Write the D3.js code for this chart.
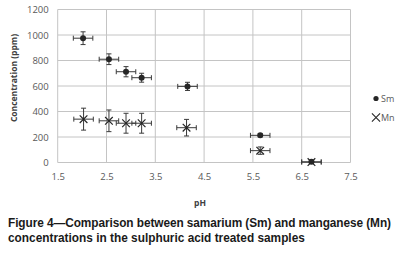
<!DOCTYPE html>
<html>
<head>
<meta charset="utf-8">
<script src="https://cdn.jsdelivr.net/npm/d3@7"></script>
<style>
  body { margin: 0; background: #fff; }
  svg { display: block; }
</style>
</head>
<body>
<div id="chart"></div>
<script>
// data
var smPH   = [2.02, 2.55, 2.9, 3.22, 4.16, 5.65, 6.7];
var smConc = [975, 810, 712, 665, 597, 213, 5];
var smErr  = [50, 42, 40, 35, 32, 12, 8];
var mnPH   = [2.03, 2.55, 2.9, 3.22, 4.14, 5.65, 6.7];
var mnConc = [340, 327, 308, 308, 273, 93, 3];
var mnErr  = [86, 85, 78, 78, 65, 29, 10];
var phErr  = 0.2;
var xTicks = [1.5, 2.5, 3.5, 4.5, 5.5, 6.5, 7.5];
var yTicks = [0, 200, 400, 600, 800, 1000, 1200];

var W = 399, H = 267;
var margin = {top: 9.5, left: 57.7, right: 48.5, bottom: 104.5};

var svg = d3.select("#chart").append("svg")
    .attr("width", W).attr("height", H);

var x = d3.scaleLinear().domain([1.5, 7.5]).range([margin.left, W - margin.right]);
var y = d3.scaleLinear().domain([0, 1200]).range([H - margin.bottom, margin.top]);

var grid = "#c4c4c4", tickCol = "#595959", ink = "#262626";

// gridlines
svg.append("g").selectAll("line.h").data(yTicks).enter().append("line")
    .attr("x1", x(1.5)).attr("x2", x(7.5))
    .attr("y1", function(d){ return y(d); }).attr("y2", function(d){ return y(d); })
    .attr("stroke", grid).attr("stroke-width", 1);
svg.append("g").selectAll("line.v").data(xTicks).enter().append("line")
    .attr("x1", function(d){ return x(d); }).attr("x2", function(d){ return x(d); })
    .attr("y1", y(0)).attr("y2", y(1200))
    .attr("stroke", grid).attr("stroke-width", 1);

// axes (labels only)
var xAxis = svg.append("g")
    .attr("transform", "translate(0," + (y(0) + 4) + ")")
    .call(d3.axisBottom(x).tickValues(xTicks).tickSize(0).tickFormat(d3.format(".1f")));
var yAxis = svg.append("g")
    .attr("transform", "translate(" + (x(1.5) - 6) + ",0)")
    .call(d3.axisLeft(y).tickValues(yTicks).tickSize(0).tickFormat(d3.format("d")));
[xAxis, yAxis].forEach(function(a){
  a.select(".domain").remove();
  a.selectAll("text").attr("fill", tickCol)
    .style("font-family", "'Open Sans', sans-serif").style("font-size", "9.5px");
});
xAxis.selectAll("text").attr("dy", "1.1em");

// axis titles
svg.append("text")
    .attr("transform", "translate(17," + 78 + ") rotate(-90)")
    .attr("text-anchor", "middle")
    .attr("fill", "#404040")
    .style("font-family", "'Open Sans', sans-serif").style("font-size", "8.5px").style("font-weight", "bold")
    .text("Concentration (ppm)");
svg.append("text")
    .attr("x", 200).attr("y", 206)
    .attr("text-anchor", "middle")
    .attr("fill", "#404040")
    .style("font-family", "'Open Sans', sans-serif").style("font-size", "8.5px").style("font-weight", "bold")
    .text("pH");

// error bars
function errorBars(xs, ys, es, g) {
  xs.forEach(function(px, i) {
    var cx = x(px), cy = y(ys[i]);
    var x0 = x(px - phErr), x1 = x(px + phErr);
    var y0 = y(ys[i] - es[i]), y1 = y(ys[i] + es[i]);
    var segs = [
      [x0, cy, x1, cy], [x0, cy - 2.5, x0, cy + 2.5], [x1, cy - 2.5, x1, cy + 2.5],
      [cx, y0, cx, y1], [cx - 2.5, y0, cx + 2.5, y0], [cx - 2.5, y1, cx + 2.5, y1]
    ];
    segs.forEach(function(s){
      g.append("line").attr("x1", s[0]).attr("y1", s[1]).attr("x2", s[2]).attr("y2", s[3])
        .attr("stroke", "#3a3a3a").attr("stroke-width", 1);
    });
  });
}
var gErr = svg.append("g");
errorBars(smPH, smConc, smErr, gErr);
errorBars(mnPH, mnConc, mnErr, gErr);

// Mn markers: X
var cross = d3.symbol().type(d3.symbolTimes).size(40);
svg.append("g").selectAll("path").data(mnPH).enter().append("path")
    .attr("transform", function(d, i){ return "translate(" + x(d) + "," + y(mnConc[i]) + ")"; })
    .attr("d", cross)
    .attr("fill", "none").attr("stroke", ink).attr("stroke-width", 1.2);

// Sm markers: filled circle
svg.append("g").selectAll("circle").data(smPH).enter().append("circle")
    .attr("cx", function(d){ return x(d); })
    .attr("cy", function(d, i){ return y(smConc[i]); })
    .attr("r", 3)
    .attr("fill", ink);

// legend
var leg = svg.append("g");
leg.append("circle").attr("cx", 376).attr("cy", 98.5).attr("r", 2.6).attr("fill", ink);
leg.append("path").attr("transform", "translate(376,117.5)")
    .attr("d", d3.symbol().type(d3.symbolTimes).size(45))
    .attr("fill", "none").attr("stroke", ink).attr("stroke-width", 1.1);
leg.selectAll("text").data(["Sm", "Mn"]).enter().append("text")
    .attr("x", 381).attr("y", function(d, i){ return 101.5 + i * 19.5; })
    .attr("fill", tickCol)
    .style("font-family", "'Open Sans', sans-serif").style("font-size", "9px")
    .text(function(d){ return d; });

// caption
var cap = ["Figure 4\u2014Comparison between samarium (Sm) and manganese (Mn)",
           "concentrations in the sulphuric acid treated samples"];
var capText = svg.append("g").selectAll("text").data(cap).enter().append("text")
    .attr("x", 8).attr("y", function(d, i){ return 226.5 + i * 15; })
    .attr("fill", "#1a1a1a")
    .style("font-family", "'Liberation Sans', Arial, sans-serif")
    .style("font-size", "11.85px").style("font-weight", "bold")
    .text(function(d){ return d; });
capText.filter(function(d, i){ return i === 0; })
    .attr("textLength", 383).attr("lengthAdjust", "spacing");
</script>
</body>
</html>
